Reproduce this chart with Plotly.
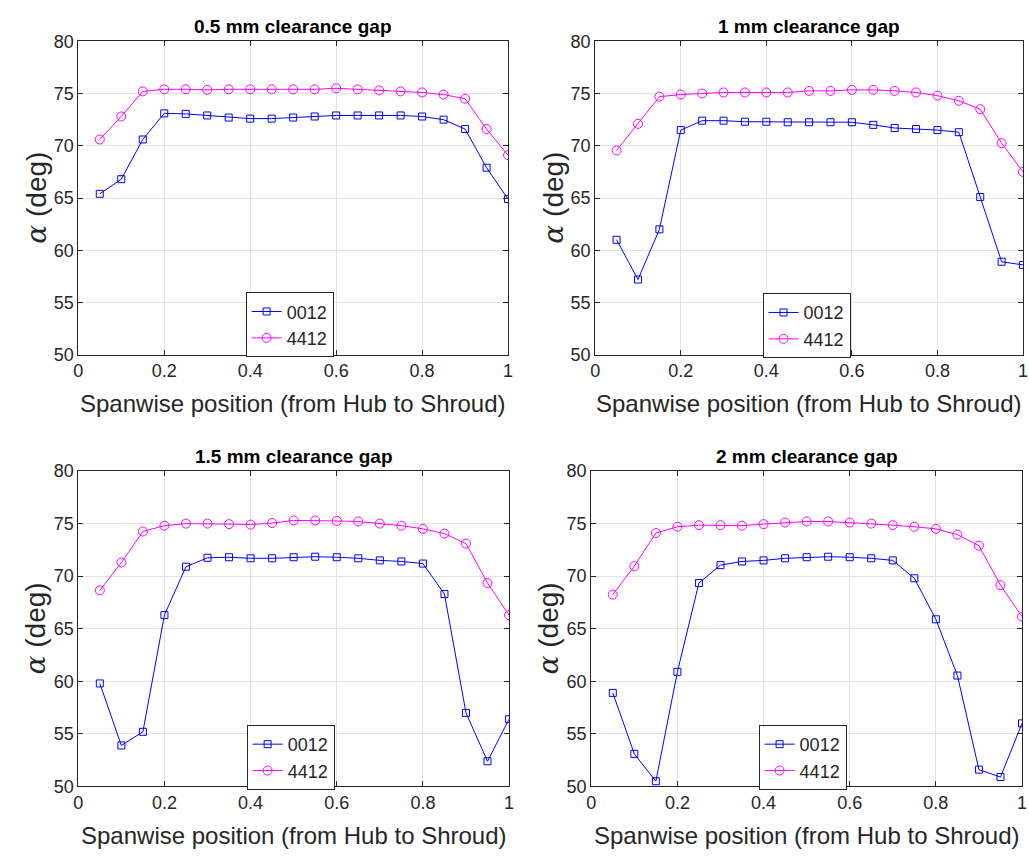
import plotly.graph_objects as go

x = [0.05, 0.1, 0.15, 0.2, 0.25, 0.3, 0.35, 0.4, 0.45, 0.5,
     0.55, 0.6, 0.65, 0.7, 0.75, 0.8, 0.85, 0.9, 0.95, 1.0]

titles = ["0.5 mm clearance gap", "1 mm clearance gap",
          "1.5 mm clearance gap", "2 mm clearance gap"]

a0012_05 = [65.4, 66.8, 70.6, 73.1, 73.05, 72.9, 72.7, 72.6, 72.6, 72.7,
            72.8, 72.9, 72.9, 72.9, 72.9, 72.8, 72.5, 71.6, 67.9, 64.9]
a4412_05 = [70.6, 72.8, 75.2, 75.4, 75.4, 75.35, 75.4, 75.4, 75.4, 75.4,
            75.4, 75.5, 75.4, 75.3, 75.2, 75.1, 74.9, 74.5, 71.6, 69.1]

a0012_10 = [61.0, 57.2, 62.0, 71.5, 72.4, 72.4, 72.3, 72.3, 72.25, 72.25,
            72.25, 72.25, 72.0, 71.7, 71.6, 71.5, 71.3, 65.1, 58.9, 58.6]
a4412_10 = [69.55, 72.1, 74.7, 74.9, 75.0, 75.1, 75.1, 75.1, 75.1, 75.25,
            75.25, 75.35, 75.35, 75.25, 75.1, 74.8, 74.3, 73.5, 70.25, 67.5]

a0012_15 = [59.8, 53.9, 55.2, 66.3, 70.9, 71.75, 71.8, 71.7, 71.7, 71.8,
            71.85, 71.8, 71.7, 71.5, 71.4, 71.2, 68.3, 57.0, 52.4, 56.4]
a4412_15 = [68.65, 71.3, 74.25, 74.8, 75.0, 75.0, 74.95, 74.9, 75.05, 75.3,
            75.3, 75.25, 75.2, 75.0, 74.8, 74.5, 74.05, 73.1, 69.35, 66.3]

a0012_20 = [58.9, 53.1, 50.5, 60.9, 69.35, 71.05, 71.4, 71.5, 71.7, 71.8,
            71.85, 71.8, 71.7, 71.5, 69.8, 65.9, 60.55, 51.6, 50.9, 56.0]
a4412_20 = [68.25, 70.95, 74.1, 74.7, 74.85, 74.85, 74.8, 74.95, 75.1, 75.2,
            75.2, 75.1, 75.0, 74.85, 74.7, 74.5, 73.95, 72.9, 69.15, 66.15]

series = [(a0012_05, a4412_05), (a0012_10, a4412_10),
          (a0012_15, a4412_15), (a0012_20, a4412_20)]

W, H = 1029, 859
# plot areas in pixels: (x0, x1, ytop, ybottom)
boxes = [(74, 508, 32, 353), (596, 1028, 32, 353),
         (74, 509, 472, 795), (592, 1027, 472, 795)]
legpos = [(243, 289), (765, 290), (244, 732), (761, 732)]

FONT = "Liberation Sans, Arial, Helvetica, sans-serif"
TXT = "#262626"

fig = go.Figure()
layout = dict(width=W, height=H, margin=dict(l=0, r=0, t=0, b=0),
              paper_bgcolor="white", plot_bgcolor="white",
              font=dict(family=FONT, color=TXT), annotations=[])

for i, (b, (s1, s2), t) in enumerate(zip(boxes, series, titles)):
    n = "" if i == 0 else str(i + 1)
    xa, ya = "x" + n, "y" + n
    leg = "legend" + n
    fig.add_trace(go.Scatter(x=x, y=s1, name="0012", mode="lines+markers",
                             line=dict(color="#0000FF", width=1),
                             marker=dict(symbol="square-open", size=7, color="#0000FF",
                                         line=dict(width=1)),
                             xaxis=xa, yaxis=ya, legend=leg))
    fig.add_trace(go.Scatter(x=x, y=s2, name="4412", mode="lines+markers",
                             line=dict(color="#FF00FF", width=1),
                             marker=dict(symbol="circle-open", size=9, color="#FF00FF",
                                         line=dict(width=1)),
                             xaxis=xa, yaxis=ya, legend=leg))
    x0, x1, yt, yb = b
    dx = [x0 / W, x1 / W]
    dy = [1 - yb / H, 1 - yt / H]
    axcommon = dict(showline=True, linecolor="#262626", linewidth=1, mirror="ticks",
                    ticks="inside", ticklen=5, tickcolor="#262626",
                    showgrid=True, gridcolor="#e3e3e3", gridwidth=1, zeroline=False,
                    tickfont=dict(size=18, color=TXT, family=FONT))
    layout["xaxis" + n] = dict(domain=dx, range=[0, 1], tickvals=[0, 0.2, 0.4, 0.6, 0.8, 1],
                               ticktext=["0", "0.2", "0.4", "0.6", "0.8", "1"],
                               anchor=ya, **axcommon)
    layout["yaxis" + n] = dict(domain=dy, range=[50, 80], tickvals=[50, 55, 60, 65, 70, 75, 80],
                               anchor=xa, **axcommon)
    lx, ly = legpos[i]
    layout[leg] = dict(x=lx / W, y=1 - ly / H, xanchor="left", yanchor="top",
                       bgcolor="white", bordercolor="#262626", borderwidth=1,
                       font=dict(size=18, color=TXT, family=FONT),
                       tracegroupgap=0, itemwidth=30)
    cx = (x0 + x1) / 2
    layout["annotations"] += [
        dict(text="<b>" + t + "</b>", x=cx / W, y=1 - (yt - 15) / H, xref="paper", yref="paper",
             showarrow=False, font=dict(size=19, color="black", family=FONT),
             xanchor="center", yanchor="middle"),
        dict(text="Spanwise position (from Hub to Shroud)", x=cx / W, y=1 - (yb + 50) / H,
             xref="paper", yref="paper", showarrow=False,
             font=dict(size=24, color=TXT, family=FONT), xanchor="center", yanchor="middle"),
        dict(text="<span style='font-family:DejaVu Serif'><i>α</i></span> (deg)",
             x=(x0 - 43) / W, y=1 - (yt + yb) / 2 / H,
             xref="paper", yref="paper", showarrow=False, textangle=-90,
             font=dict(size=28, color=TXT, family=FONT), xanchor="center", yanchor="middle"),
    ]

fig.update_layout(**layout)
fig.write_html("out.html")
